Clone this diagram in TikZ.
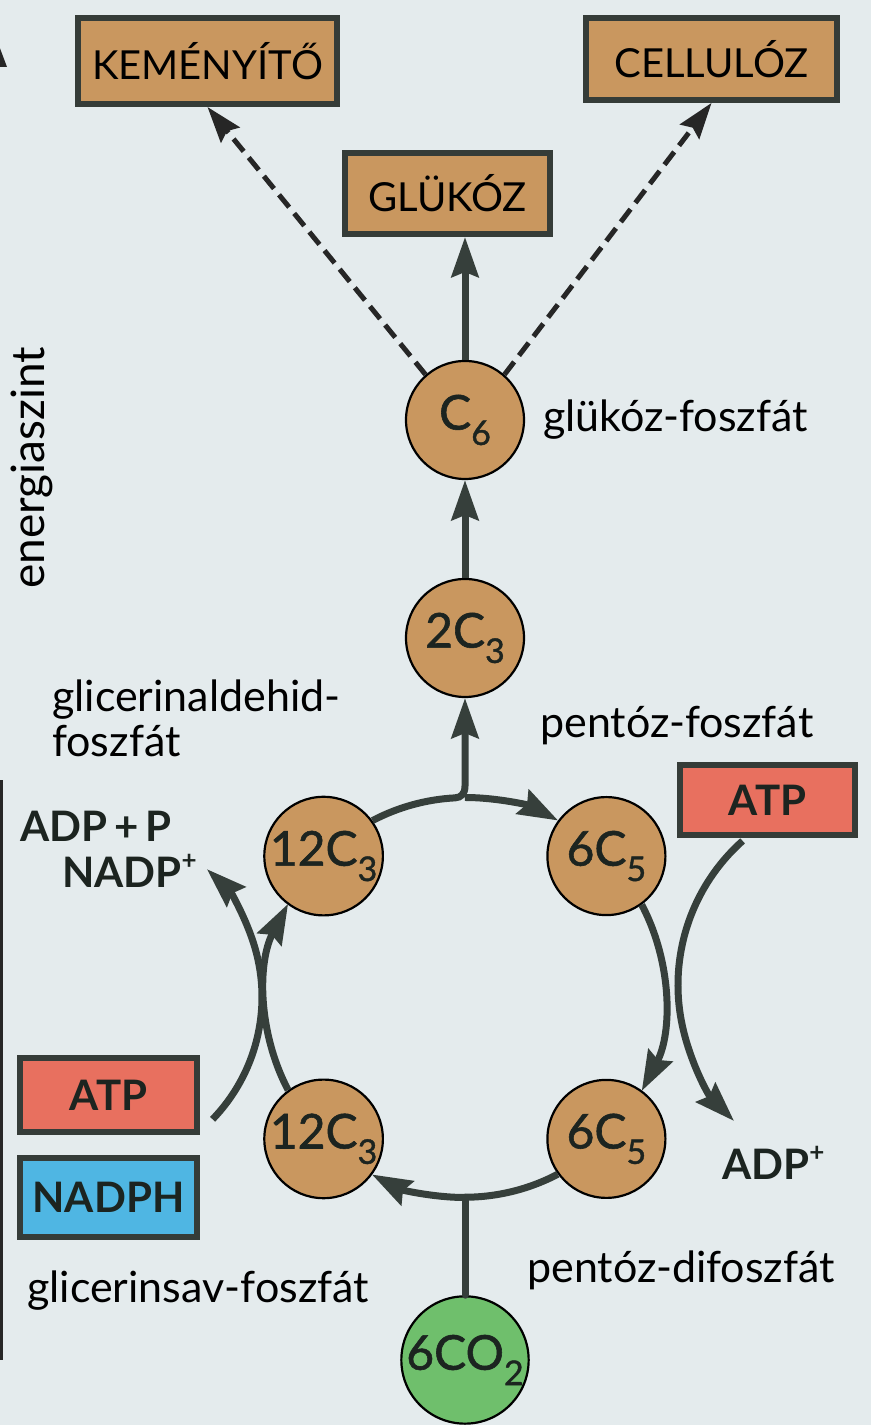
\documentclass[tikz,border=0pt]{standalone}
\usepackage{fontspec}
\setmainfont{Lato}
\usetikzlibrary{arrows.meta,calc}
\definecolor{bgc}{HTML}{E4EBED}
\definecolor{tanc}{HTML}{C9975F}
\definecolor{frm}{HTML}{353C38}
\definecolor{atpred}{HTML}{E8705F}
\definecolor{nadblue}{HTML}{4FB6E3}
\definecolor{co2green}{HTML}{6FBF6C}
\definecolor{arrc}{HTML}{363F3B}
\definecolor{txtc}{HTML}{1C2420}
\newcommand{\sbs}[1]{\raisebox{-0.32em}{\fontsize{34}{34}\selectfont #1}}
\newcommand{\sps}[1]{\raisebox{0.45em}{\fontsize{26}{26}\selectfont #1}}
\begin{document}
\begin{tikzpicture}[x=1pt,y=1pt,
  circnode/.style={circle,draw=black,line width=2.2,fill=tanc,minimum size=118,inner sep=0,text=txtc,font=\addfontfeature{FakeBold=1.2}\fontsize{48}{48}\selectfont},
  boxnode/.style={draw=frm,line width=6,fill=tanc,inner sep=0,font=\fontsize{40}{40}\selectfont,text=black},
  cofbox/.style={draw=frm,line width=6,inner sep=0,font=\bfseries\fontsize{42}{42}\selectfont,text=txtc},
  lbl/.style={anchor=base west,inner sep=0,font=\fontsize{43}{43}\selectfont,text=black},
  blbl/.style={anchor=base west,inner sep=0,font=\bfseries\fontsize{42}{42}\selectfont,text=txtc},
  ln/.style={draw=arrc,line width=7},
  arrhead/.style={-{Stealth[length=40,width=27,inset=5]}},
  dsh/.style={draw=black!85,line width=5,dash pattern=on 16 off 8,-{Stealth[length=36,width=24,inset=5]}}
]
\useasboundingbox (0,0) rectangle (871,1425);
\clip (0,0) rectangle (871,1425);
\fill[bgc] (0,0) rectangle (871,1425);

% energy axis
\draw[black!85,line width=3] (1.5,65) -- (1.5,645);
\fill[black!85] (-2,1382) -- (7,1358) -- (-11,1358) -- cycle;
\node[rotate=90,anchor=base,inner sep=0,font=\fontsize{46}{46}\selectfont] (ez) at (44,957) {energiaszint};

% boxes
\node[boxnode,minimum width=259,minimum height=86] (kem) at (207.5,1364) {KEMÉNYÍTŐ};
\node[boxnode,minimum width=205,minimum height=81] (glu) at (447.5,1231.5) {GLÜKÓZ};
\node[boxnode,minimum width=251,minimum height=82] (cel) at (711.5,1366) {CELLULÓZ};
\node[cofbox,fill=atpred,minimum width=175,minimum height=70] (atpR) at (767.5,625) {ATP};
\node[cofbox,fill=atpred,minimum width=177,minimum height=74] (atpL) at (108.5,330) {ATP};
\node[cofbox,fill=nadblue,minimum width=177,minimum height=79] (nadph) at (108.5,227.5) {NADPH};

% circles
\node[circnode] (c6) at (465,1005) {C\sbs{6}};
\node[circnode] (c23) at (465,787) {2C\sbs{3}};
\node[circnode] (a12) at (323.6,568.9) {12C\sbs{3}};
\node[circnode] (a6) at (606.4,568.9) {6C\sbs{5}};
\node[circnode] (b12) at (323.6,286.1) {12C\sbs{3}};
\node[circnode] (b6) at (606.4,286.1) {6C\sbs{5}};
\node[circnode,fill=co2green] (co2) at (465,65) {6CO\sbs{2}};

% labels
\node[lbl] (gf) at (543,993) {glükóz-foszfát};
\node[lbl] (ga1) at (52,713) {glicerinaldehid-};
\node[lbl] (ga2) at (52,668) {foszfát};
\node[lbl] (pf) at (540,687) {pentóz-foszfát};
\node[blbl] (adpp) at (20,583) {ADP\,+\,P};
\node[blbl] (nadp) at (62,537) {NADP\sps{+}};
\node[blbl] (adpplus) at (722,245) {ADP\sps{+}};
\node[lbl] (pdf) at (527,142) {pentóz-difoszfát};
\node[lbl] (gsf) at (27,122) {glicerinsav-foszfát};

% connectors top
\draw[dsh] (c6.131) -- (kem.south);
\draw[dsh] (c6.49) -- (cel.south);
\draw[ln,arrhead] (c6.north) -- (glu.south -| c6.north);
\draw[ln,arrhead] (c23.north) -- (c6.south);

% cycle
\coordinate (J) at (465,627.5);
\coordinate (J2) at (465,227.5);
\draw[ln,arrhead] (a12.36) arc[start angle=117.75,end angle=93,radius=200pt]
  .. controls (461,627.5) and (465,631) .. (465,639) -- (c23.south);
\draw[ln,arrhead] (J) arc[start angle=90,end angle=62.25,radius=200pt];
\draw[ln,arrhead] (a6.-54) arc[start angle=27.75,end angle=-27.75,radius=200pt];
\draw[ln] (b6.216) arc[start angle=-62.25,end angle=-90,radius=200pt];
\draw[ln,arrhead] (J2) arc[start angle=-90,end angle=-117.75,radius=200pt];
\draw[ln,line cap=round] (co2.north) -- (J2);
\draw[ln,arrhead] (b12.126) arc[start angle=207.75,end angle=152.25,radius=200pt];

% cofactor arcs
\coordinate (la) at (212.6,305.7);
\draw[ln,arrhead] (la) arc[start angle=-44,end angle=46.6,radius=176pt];
\coordinate (ra) at (742.6,584.1);
\draw[ln,arrhead] (ra) arc[start angle=131.7,end angle=224.8,radius=193pt];
\end{tikzpicture}
\end{document}
